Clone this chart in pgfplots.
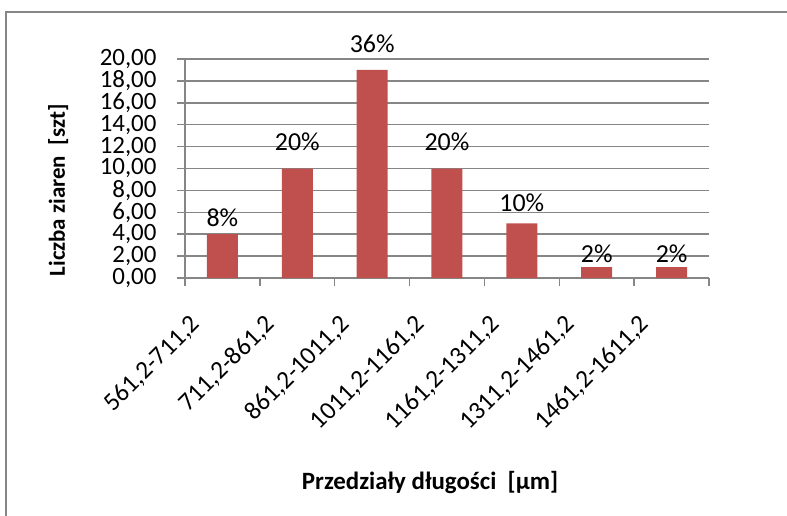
\documentclass[border=0pt]{standalone}
\usepackage{pgfplots}
\pgfplotsset{compat=1.18}
\usepackage{fontspec}
\setmainfont{Carlito}
\definecolor{barred}{HTML}{C0504D}
\definecolor{gridgray}{HTML}{868686}
\begin{document}
\begin{tikzpicture}
\path[use as bounding box] (-185bp,-238bp) rectangle (602bp,278bp);
\draw[gridgray, line width=2bp] (-179bp,-240bp) -- (-179bp,266bp) -- (604bp,266bp);
\begin{axis}[
  at={(0,0)}, anchor=origin,
  scale only axis, x=74.857bp, y=10.95bp,
  xmin=0, xmax=7, ymin=0, ymax=20,
  axis x line*=bottom, axis y line*=left,
  axis line style={gridgray, line width=1.5bp},
  ymajorgrids, grid style={gridgray, line width=1.5bp},
  tick style={gridgray, line width=1.5bp},
  tick align=outside, major tick length=8bp,
  ytick={0,2,...,20},
  xtick={0,...,7}, xticklabels={},
  extra x ticks={0.5,1.5,...,6.5},
  extra x tick labels={{561,2-711,2}, {711,2-861,2}, {861,2-1011,2}, {1011,2-1161,2}, {1161,2-1311,2}, {1311,2-1461,2}, {1461,2-1611,2}},
  extra x tick style={major tick length=0pt, grid=none,
     tick label style={font=\fontsize{25.5}{30}\selectfont, xshift=-24bp, yshift=-40bp, rotate=45, anchor=east}},
  /pgf/number format/assume math mode=true,
  yticklabel style={font=\fontsize{25}{30}\selectfont, xshift=-17bp, /pgf/number format/.cd, fixed, fixed zerofill, precision=2, use comma},
  every axis y label/.style={at={(axis description cs:-0.242,0.40)}, rotate=90, anchor=center, font=\bfseries\fontsize{23}{26}\selectfont},
  every axis x label/.style={at={(axis description cs:0.4676,-0.936)}, anchor=center, font=\bfseries\fontsize{25}{28}\selectfont},
  ylabel={Liczba ziaren\ \ [szt]},
  xlabel={Przedziały długości\ \ [µm]},
]
\addplot[ybar, bar width=31bp, fill=barred, draw=none,
  point meta=explicit symbolic, nodes near coords,
  nodes near coords style={font=\fontsize{26}{30}\selectfont, anchor=south, inner sep=2bp}]
  coordinates {(0.5,4)[\raisebox{6bp}{8\%}] (1.5,10)[\raisebox{16bp}{20\%}] (2.5,19)[\raisebox{15bp}{36\%}] (3.5,10)[\raisebox{16bp}{20\%}] (4.5,5)[\raisebox{10bp}{10\%}] (5.5,1)[\raisebox{2bp}{2\%}] (6.5,1)[\raisebox{2bp}{2\%}]};
\end{axis}
\end{tikzpicture}
\end{document}
